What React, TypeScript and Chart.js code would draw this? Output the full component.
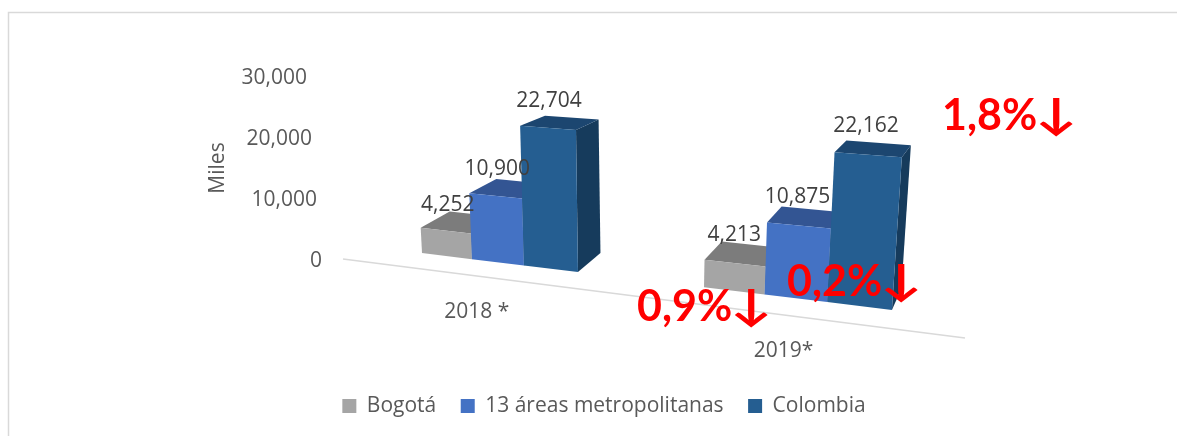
import React, { useEffect, useRef } from "react";
import { Chart, registerables } from "chart.js";

Chart.register(...registerables);

const categories = ["2018 *", "2019*"];
const bogota = [4252, 4213];
const areas = [10900, 10875];
const colombia = [22704, 22162];
const seriesNames = ["Bogotá", "13 áreas metropolitanas", "Colombia"];
const frontColors = ["#A5A5A5", "#4472C4", "#255E91"];
const topColors = ["#7C7C7C", "#335593", "#1C4670"];
const sideColors = ["#6E6E6E", "#2B4A80", "#163B5C"];
const callouts = ["1,8%", "0,9%", "0,2%"];
const calloutSpots = [[942, 116], [637, 307], [787, 282]];

const FONT = '"Open Sans", "Noto Sans", sans-serif';
const TEXT_GREY = "#595959";
const LABEL_DARK = "#404040";

function project(scaleMid: number, bottom: number, u: number, v: number, back: boolean) {
  const sxb = u - 9.24 + 0.000312 * (u - scaleMid) * (u - scaleMid);
  const k = 1 + (sxb - 500) * 0.00033;
  const lean = 0.00025 * (sxb - 633);
  const h = v * k;
  let sx = sxb + lean * h;
  let sy = bottom - 6 + 0.1208 * (sxb - 421) - h;
  if (back) {
    const dx = 29 - (sx - 421) * 0.0415;
    const dy = -(10 + (sy - 124) * 0.061);
    sx += dx;
    sy += dy;
  }
  return [sx, sy];
}

function poly(ctx: CanvasRenderingContext2D, pts: number[][], fill: string) {
  ctx.beginPath();
  pts.forEach((p, i) => (i ? ctx.lineTo(p[0], p[1]) : ctx.moveTo(p[0], p[1])));
  ctx.closePath();
  ctx.fillStyle = fill;
  ctx.fill();
}

const scene = {
  id: "scene",
  afterLayout(chart: any) {
    const lg = chart.legend;
    lg.left += 15.5;
    lg.right += 15.5;
  },
  beforeDraw(chart: any) {
    const { ctx, width, height } = chart;
    ctx.save();
    ctx.fillStyle = "#ffffff";
    ctx.fillRect(0, 0, width, height);
    ctx.strokeStyle = "#D9D9D9";
    ctx.lineWidth = 1.5;
    ctx.strokeRect(8.5, 12.5, width + 20, height + 20);
    ctx.restore();
  },
  beforeDatasetsDraw(chart: any) {
    const { ctx, chartArea, scales } = chart;
    const { left, right, bottom } = chartArea;
    const mid = (left + right) / 2;
    ctx.save();

    // floor line
    const x0 = left - 8;
    const x1 = right + 18;
    ctx.strokeStyle = "#D9D9D9";
    ctx.lineWidth = 1.5;
    ctx.beginPath();
    ctx.moveTo(x0, bottom);
    ctx.lineTo(x1, bottom + 0.127 * (x1 - x0));
    ctx.stroke();

    // value axis labels, leaning with the perspective
    ctx.font = `21px ${FONT}`;
    ctx.fillStyle = TEXT_GREY;
    ctx.textAlign = "right";
    ctx.textBaseline = "middle";
    scales.y.ticks.forEach((t: any) => {
      const py = scales.y.getPixelForValue(t.value);
      ctx.fillText(t.value.toLocaleString("en-US"), left - 29 - (bottom - py) * 0.082, py + 2);
    });

    // axis title
    ctx.save();
    ctx.translate(218, 168);
    ctx.rotate(-Math.PI / 2);
    ctx.textAlign = "center";
    ctx.fillText("Miles", 0, 0);
    ctx.restore();

    // category labels
    ctx.textAlign = "center";
    scales.x.ticks.forEach((t: any, i: number) => {
      const u = scales.x.getPixelForTick(i);
      const p = project(mid, bottom, u, 0, false);
      const lx = p[0] - 21 + 0.03 * (u - 500);
      ctx.fillText(categories[i], lx, bottom + 0.127 * (lx - x0) + 36);
    });

    // bars
    const labels: any[] = [];
    categories.forEach((_, ci) => {
      chart.data.datasets.forEach((ds: any, di: number) => {
        const el = chart.getDatasetMeta(di).data[ci];
        const { x, y, base, width } = el.getProps(["x", "y", "base", "width"], true);
        const l = x - width / 2;
        const r = x + width / 2;
        const v = base - y;
        const fbl = project(mid, bottom, l, 0, false);
        const fbr = project(mid, bottom, r, 0, false);
        const ftl = project(mid, bottom, l, v, false);
        const ftr = project(mid, bottom, r, v, false);
        const bbr = project(mid, bottom, r, 0, true);
        const btl = project(mid, bottom, l, v, true);
        const btr = project(mid, bottom, r, v, true);
        poly(ctx, [fbr, ftr, btr, bbr], sideColors[di]);
        poly(ctx, [ftl, ftr, btr, btl], topColors[di]);
        poly(ctx, [fbl, fbr, ftr, ftl], frontColors[di]);
        const topMid = (ftl[0] + ftr[0]) / 2;
        labels.push([
          ds.data[ci],
          topMid - (topMid - 650) * 0.01,
          Math.min(btl[1], btr[1]) - 5 - v * 0.07,
        ]);
      });
    });

    // value labels
    ctx.font = `21px ${FONT}`;
    ctx.fillStyle = LABEL_DARK;
    ctx.textAlign = "center";
    labels.forEach(([val, lx, ly]) => ctx.fillText(val.toLocaleString("en-US"), lx, ly));

    // red callouts
    ctx.fillStyle = "#FF0000";
    ctx.textAlign = "left";
    callouts.forEach((txt, i) => {
      const [cx, cy] = calloutSpots[i];
      ctx.font = `bold 43px Lato, sans-serif`;
      ctx.fillText(txt, cx, cy);
      ctx.save();
      ctx.translate(cx + 93, cy - 1);
      ctx.scale(1.3, 1);
      ctx.font = `bold 43px Lato, sans-serif`;
      ctx.fillText("↓", 0, 0);
      ctx.restore();
    });

    ctx.restore();
    return false;
  },
};

export default function App() {
  const ref = useRef<HTMLCanvasElement>(null);
  useEffect(() => {
    const chart = new Chart(ref.current!, {
      type: "bar",
      data: {
        labels: categories,
        datasets: [
          { label: seriesNames[0], data: bogota, backgroundColor: frontColors[0] },
          { label: seriesNames[1], data: areas, backgroundColor: frontColors[1] },
          { label: seriesNames[2], data: colombia, backgroundColor: frontColors[2] },
        ],
      },
      options: {
        responsive: false,
        animation: false,
        layout: { padding: { left: 0, right: 0, top: 76, bottom: 9.5 } },
        datasets: { bar: { categoryPercentage: 0.577, barPercentage: 1 } },
        scales: {
          x: {
            grid: { display: false },
            border: { display: false },
            ticks: { display: false },
            afterFit: (s: any) => { s.height = 112; },
          },
          y: {
            min: 0,
            max: 30000,
            ticks: { display: false, stepSize: 10000 },
            grid: { display: false },
            border: { display: false },
            afterFit: (s: any) => { s.width = 351; },
          },
          y2: {
            position: "right",
            ticks: { display: false },
            grid: { display: false },
            border: { display: false },
            afterFit: (s: any) => { s.width = 230; },
          },
        },
        plugins: {
          tooltip: { enabled: false },
          title: { display: false },
          legend: {
            position: "bottom",
            labels: {
              boxWidth: 14,
              boxHeight: 14,
              padding: 24.5,
              color: TEXT_GREY,
              font: { family: FONT, size: 21 },
            },
          },
        },
      } as any,
      plugins: [scene as any],
    });
    return () => chart.destroy();
  }, []);
  return (
    <canvas
      ref={ref}
      width={1177}
      height={436}
      style={{ position: "fixed", left: 0, top: 0, display: "block", width: 1177, height: 436 }}
    />
  );
}
